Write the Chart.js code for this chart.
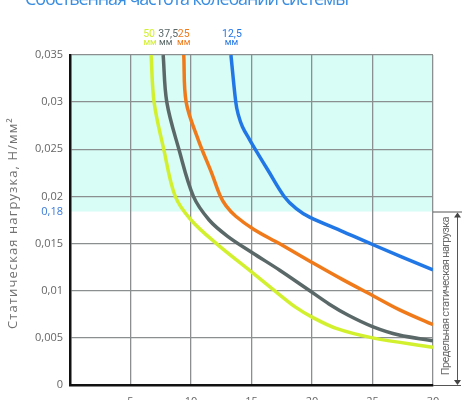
<!DOCTYPE html>
<html>
<head>
<meta charset="utf-8">
<script src="https://cdn.jsdelivr.net/npm/chart.js@4.4.1/dist/chart.umd.min.js"></script>
<style>
  html, body { margin: 0; padding: 0; background: #fff; overflow: hidden; }
  #wrap { position: absolute; left: 0; top: -16px; width: 470px; height: 436px; }
</style>
</head>
<body>
<div id="wrap"><canvas id="chart"></canvas></div>
<script>
// frequency (x) vs static load (y), one pair of arrays per pad thickness
const labels50 = ['50', 'мм'];
const x50 = [6.7, 6.95, 7.75, 8.7, 10.0, 12.1, 15.1, 17.2, 18.7, 20.0, 22.0, 25.0, 30.0];
const y50 = [0.035, 0.030, 0.025, 0.020, 0.0175, 0.0150, 0.0119, 0.0097, 0.0082, 0.0072, 0.0060, 0.0050, 0.0040];

const labels375 = ['37,5', 'мм'];
const x375 = [7.7, 8.0, 9.0, 10.2, 11.5, 13.0, 15.1, 17.3, 19.7, 21.4, 23.0, 25.0, 27.2, 30.0];
const y375 = [0.035, 0.030, 0.025, 0.020, 0.0175, 0.0158, 0.0140, 0.0122, 0.0101, 0.0086, 0.0074, 0.0062, 0.0053, 0.0047];

const labels25 = ['25', 'мм'];
const x25 = [9.4, 9.6, 10.6, 11.7, 12.4, 12.9, 13.7, 15.2, 17.3, 20.0, 22.5, 25.0, 27.2, 30.0];
const y25 = [0.035, 0.030, 0.026, 0.0225, 0.0201, 0.0190, 0.0179, 0.0165, 0.0150, 0.0130, 0.0112, 0.0095, 0.0080, 0.0064];

const labels125 = ['12,5', 'мм'];
const x125 = [13.3, 13.7, 13.9, 14.25, 14.85, 15.4, 16.35, 17.7, 18.7, 19.8, 22.5, 25.0, 30.0];
const y125 = [0.035, 0.030, 0.0287, 0.0274, 0.0260, 0.0248, 0.0228, 0.0200, 0.0187, 0.0178, 0.0163, 0.0149, 0.0122];

const xTicks = [0, 5, 10, 15, 20, 25, 30];
const yTicks = [0, 0.005, 0.01, 0.015, 0.02, 0.025, 0.03, 0.035];
const limitLoad = 0.0184;   // boundary of the shaded zone
const limitLabel = '0,18';

const chartTitle = 'Собственная частота колебаний системы';
const yTitle = 'Статическая нагрузка, Н/мм²';
const limitTitle = 'Предельная статическая нагрузка';

const FONT = '"Open Sans", "Noto Sans", sans-serif';

function pts(xs, ys) {
  return xs.map((x, i) => ({ x: x, y: ys[i] }));
}

function series(xs, ys, color, tag, shift) {
  return {
    data: pts(xs, ys),
    borderColor: color,
    borderWidth: 3.5,
    pointRadius: 0,
    showLine: true,
    fill: false,
    tension: 0.35,
    tag: tag,
    tagShift: shift
  };
}

const fmt = v => String(+v.toFixed(3)).replace('.', ',');

// draw text stretched or squeezed to a given length
function fitText(ctx, text, x, y, width) {
  ctx.letterSpacing = '0px';
  const w = ctx.measureText(text).width;
  ctx.letterSpacing = ((width - w) / text.length).toFixed(2) + 'px';
  ctx.fillText(text, x, y);
  ctx.letterSpacing = '0px';
}

// shaded band, titles, curve tags and the limit bracket
const extras = {
  id: 'extras',
  beforeDraw(chart) {
    const { ctx, chartArea: a, scales: { y } } = chart;
    const yl = y.getPixelForValue(limitLoad);
    ctx.save();
    ctx.fillStyle = '#d8fcf6';
    ctx.fillRect(a.left, a.top, a.right - a.left, yl - a.top);
    ctx.restore();
  },
  afterDraw(chart) {
    const { ctx, chartArea: a, scales: { x, y } } = chart;
    const yl = y.getPixelForValue(limitLoad);
    const y0 = y.getPixelForValue(0);
    ctx.save();

    // main title (partly above the visible area)
    ctx.fillStyle = '#3a8ee2';
    ctx.font = '18px ' + FONT;
    ctx.textAlign = 'left';
    ctx.textBaseline = 'alphabetic';
    fitText(ctx, chartTitle, 25, 21, 323);

    // y axis title
    ctx.save();
    ctx.translate(13, (a.top + a.bottom) / 2 + 3);
    ctx.rotate(-Math.PI / 2);
    ctx.fillStyle = '#727272';
    ctx.font = '13px ' + FONT;
    ctx.textAlign = 'left';
    ctx.textBaseline = 'middle';
    fitText(ctx, yTitle, -106, 0, 212);
    ctx.restore();

    // limit label on the y axis
    ctx.fillStyle = '#3a7ad8';
    ctx.font = '11px ' + FONT;
    ctx.textAlign = 'right';
    ctx.textBaseline = 'middle';
    ctx.fillText(limitLabel, a.left - 7, yl);

    // tags above each curve
    chart.data.datasets.forEach(ds => {
      const px = x.getPixelForValue(ds.data[0].x) + ds.tagShift;
      ctx.fillStyle = ds.borderColor;
      ctx.textAlign = 'center';
      ctx.textBaseline = 'alphabetic';
      ctx.font = '10.5px Roboto, ' + FONT;
      ctx.fillText(ds.tag[0], px, a.top - 18);
      ctx.font = '9px Roboto, ' + FONT;
      ctx.fillText(ds.tag[1], px - ds.tagShift / 2, a.top - 10);
    });

    // bracket on the right
    const bx = a.right + 24;
    ctx.strokeStyle = '#555';
    ctx.lineWidth = 1;
    ctx.beginPath();
    ctx.moveTo(a.right, yl + 0.5); ctx.lineTo(a.right + 29, yl + 0.5);
    ctx.moveTo(a.right, y0 + 0.5); ctx.lineTo(a.right + 28, y0 + 0.5);
    ctx.moveTo(bx + 0.5, yl + 4); ctx.lineTo(bx + 0.5, y0 - 4);
    ctx.stroke();
    ctx.fillStyle = '#444';
    ctx.beginPath();
    ctx.moveTo(bx + 0.5, yl + 1); ctx.lineTo(bx - 3, yl + 6); ctx.lineTo(bx + 4, yl + 6);
    ctx.closePath(); ctx.fill();
    ctx.beginPath();
    ctx.moveTo(bx + 0.5, y0); ctx.lineTo(bx - 3, y0 - 5); ctx.lineTo(bx + 4, y0 - 5);
    ctx.closePath(); ctx.fill();

    ctx.save();
    ctx.translate(a.right + 13, (yl + y0) / 2 - 2);
    ctx.rotate(-Math.PI / 2);
    ctx.fillStyle = '#6b6b6b';
    ctx.font = '11px Roboto, ' + FONT;
    ctx.textAlign = 'left';
    ctx.textBaseline = 'middle';
    fitText(ctx, limitTitle, -79, 0, 158);
    ctx.restore();

    ctx.restore();
  }
};

new Chart(document.getElementById('chart'), {
  type: 'scatter',
  data: {
    datasets: [
      series(x125, y125, '#2277e6', labels125, 1),
      series(x25, y25, '#f07a1a', labels25, 0),
      series(x375, y375, '#5b6868', labels375, 5),
      series(x50, y50, '#d2f02e', labels50, -2)
    ]
  },
  options: {
    responsive: true,
    maintainAspectRatio: false,
    animation: false,
    layout: { padding: { top: 71, right: 37, left: 0, bottom: 0 } },
    plugins: { legend: { display: false }, tooltip: { enabled: false }, title: { display: false } },
    scales: {
      x: {
        type: 'linear',
        min: 0, max: 30,
        afterFit(s) { s.height = 35; },
        afterBuildTicks(s) { s.ticks = xTicks.map(v => ({ value: v })); },
        grid: { color: '#8c8f8f', lineWidth: 1.3, drawTicks: false },
        border: { color: '#111', width: 2.5 },
        ticks: {
          padding: 10,
          color: '#666',
          font: { family: FONT, size: 11 },
          callback: v => v === 0 ? '' : String(v)
        }
      },
      y: {
        type: 'linear',
        min: 0, max: 0.035,
        afterFit(s) { s.width = 70; },
        afterBuildTicks(s) { s.ticks = yTicks.map(v => ({ value: v })); },
        grid: { color: '#8c8f8f', lineWidth: 1.3, drawTicks: false },
        border: { color: '#111', width: 2.5 },
        ticks: {
          padding: 7,
          color: '#666',
          font: { family: FONT, size: 11 },
          callback: v => fmt(v)
        }
      }
    }
  },
  plugins: [extras]
});
</script>
</body>
</html>
